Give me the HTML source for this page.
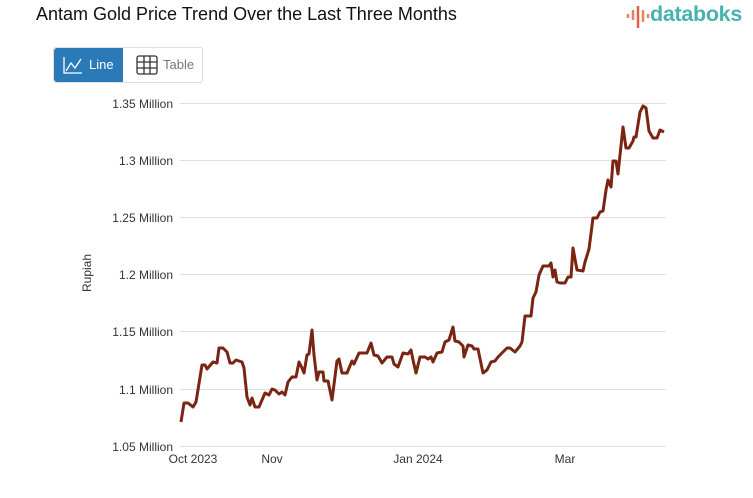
<!DOCTYPE html>
<html><head><style>
body{margin:0;width:753px;height:498px;background:#fff;font-family:"Liberation Sans",sans-serif;overflow:hidden;position:relative}
.t{position:absolute;left:36px;top:4px;font-size:18px;color:#111}
.logo{position:absolute;left:650px;top:2px;font-size:21.5px;color:#45b3ad;font-weight:bold;letter-spacing:-0.3px}
.btns{position:absolute;left:53px;top:47px;width:148px;height:34px;border:1px solid #ddd;border-radius:3px}
.b1{position:absolute;left:0;top:0;width:69px;height:34px;background:#2a7ab8;border-radius:3px 0 0 3px;color:#fff;font-size:13px}
.b2{position:absolute;left:80px;top:0;height:34px;color:#777;font-size:13px}
</style></head><body>
<div class="t">Antam Gold Price Trend Over the Last Three Months</div>
<svg style="position:absolute;left:626px;top:4px" width="24" height="24"><g stroke-width="2.5"><line x1="2" y1="10" x2="2" y2="14" stroke="#e8815a"/><line x1="7" y1="6" x2="7" y2="16" stroke="#e8815a"/><line x1="12" y1="2" x2="12" y2="24" stroke="#e0604f"/><line x1="17" y1="6" x2="17" y2="18" stroke="#e8815a"/><line x1="22" y1="10" x2="22" y2="14" stroke="#e8815a"/></g></svg>
<div class="logo">databoks</div>
<div class="btns"><div class="b1"><svg style="position:absolute;left:9px;top:8px" width="20" height="18"><path d="M1 1V17H19M3 15L8 7L12 12L18 3" fill="none" stroke="#fff" stroke-width="1.3"/></svg><span style="position:absolute;left:35px;top:9px">Line</span></div>
<div class="b2"><svg style="position:absolute;left:2px;top:7px" width="22" height="20"><g fill="none" stroke="#333" stroke-width="1.3"><rect x="1" y="1" width="20" height="18" rx="2"/><path d="M1 7H21M1 13H21M8 1V19M14 1V19"/></g></svg><span style="position:absolute;left:29px;top:9px">Table</span></div></div>
<svg style="position:absolute;left:0;top:0" width="753" height="498">
<g stroke="#e0e0e0" stroke-width="1"><line x1="180" x2="666" y1="103.5" y2="103.5"/><line x1="180" x2="666" y1="160.5" y2="160.5"/><line x1="180" x2="666" y1="217.5" y2="217.5"/><line x1="180" x2="666" y1="274.5" y2="274.5"/><line x1="180" x2="666" y1="331.5" y2="331.5"/><line x1="180" x2="666" y1="389.5" y2="389.5"/><line x1="180" x2="666" y1="446.5" y2="446.5"/></g>
<g font-size="12" fill="#333" text-anchor="end"><text x="173" y="108">1.35 Million</text><text x="173" y="165">1.3 Million</text><text x="173" y="222">1.25 Million</text><text x="173" y="279">1.2 Million</text><text x="173" y="336">1.15 Million</text><text x="173" y="394">1.1 Million</text><text x="173" y="451">1.05 Million</text></g>
<text transform="translate(91,273) rotate(-90)" font-size="12" fill="#333" text-anchor="middle">Rupiah</text>
<g font-size="12" fill="#333" text-anchor="middle"><text x="193" y="463">Oct 2023</text><text x="272" y="463">Nov</text><text x="418" y="463">Jan 2024</text><text x="565" y="463">Mar</text></g>
<polyline fill="none" stroke="#7a2412" stroke-width="3" stroke-linejoin="round" points="181,422 184,403 188,403 193,407 196,402 202,365 205,365 207,369 213,362 217,363 219,348 223,348 227,352 230,363 233,363 236,360 242,362 244,368 247,397 250,405 252,398 255,407 259,407 265,393 269,395 272,389 275,390 279,394 282,392 285,395 288,382 292,377 296,377 299,362 302,368 304,373 307,355 309,354 312,330 314,355 317,380 319,372 323,372 324,381 328,381 332,400 337,361 339,359 342,373 347,373 352,361 354,364 359,353 367,353 371,343 374,355 378,356 382,363 387,357 392,357 394,364 398,367 403,353 408,354 411,350 413,360 416,373 420,357 425,357 428,359 431,357 433,362 437,353 442,352 445,342 449,340 453,327 455,341 459,342 463,346 464,357 468,345 472,346 474,349 478,349 483,373 487,370 491,362 495,361 498,357 503,352 507,348 510,348 515,352 520,346 522,342 525,316 531,316 533,298 536,292 539,275 543,266 549,266 551,263 553,277 555,270 557,282 560,283 565,283 568,277 571,277 573,248 577,270 583,271 585,262 589,249 593,218 597,218 600,212 603,211 606,190 608,180 611,187 613,161 616,161 618,174 623,127 626,148 629,148 633,141 634,137 636,137 640,112 643,106 646,108 649,131 653,138 657,138 660,130 664,132"/>
</svg>
</body></html>
